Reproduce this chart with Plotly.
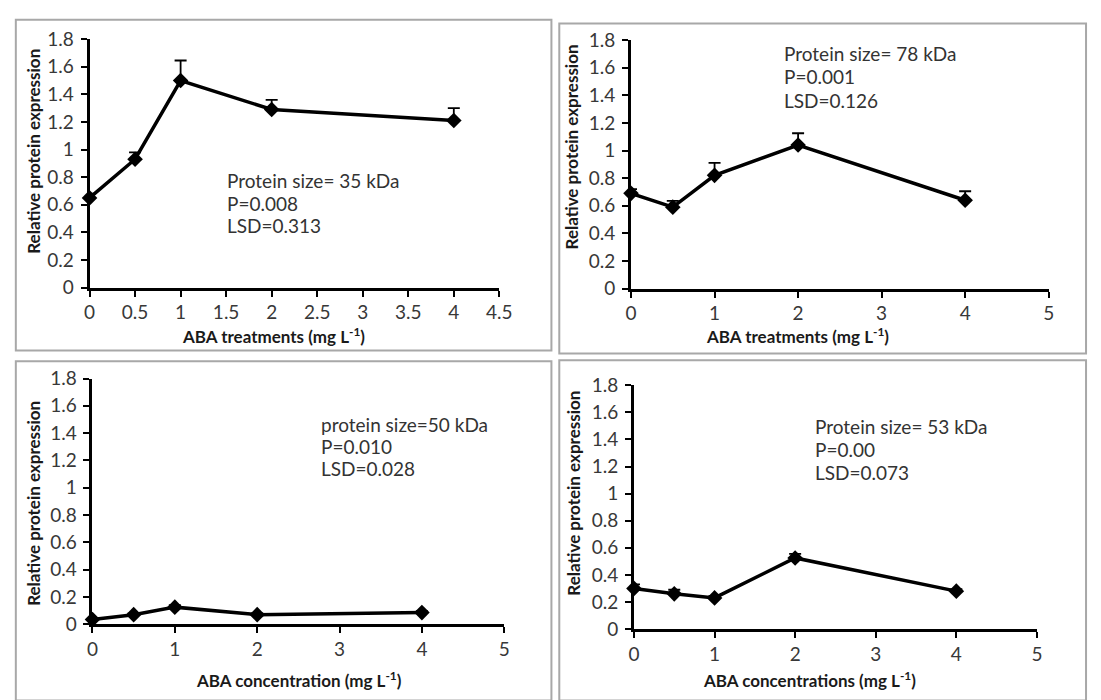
import plotly.graph_objects as go

W, H = 1101, 700

# ---------------- data ----------------
conc = [0, 0.5, 1, 2, 4]

expr_35 = [0.65, 0.93, 1.50, 1.29, 1.21]
err_35 = [0.03, 0.05, 0.145, 0.07, 0.09]

expr_78 = [0.69, 0.59, 0.82, 1.04, 0.64]
err_78 = [0.03, 0.045, 0.09, 0.085, 0.065]

expr_50 = [0.035, 0.07, 0.125, 0.07, 0.085]
err_50 = [0.01, 0.01, 0.015, 0.01, 0.01]

expr_53 = [0.30, 0.26, 0.23, 0.525, 0.28]
err_53 = [0.03, 0.03, 0.015, 0.03, 0.015]

stats_35 = ["Protein size= 35 kDa", "P=0.008", "LSD=0.313"]
stats_78 = ["Protein size= 78 kDa", "P=0.001", "LSD=0.126"]
stats_50 = ["protein size=50 kDa", "P=0.010", "LSD=0.028"]
stats_53 = ["Protein size= 53 kDa", "P=0.00", "LSD=0.073"]

xtitles = ["ABA treatments (mg L<sup>-1</sup>)", "ABA treatments (mg L<sup>-1</sup>)",
           "ABA concentration (mg L<sup>-1</sup>)", "ABA concentrations (mg L<sup>-1</sup>)"]
ytitle = "Relative protein expression"

FONT = "Lato, 'Open Sans', sans-serif"
TICK_SIZE = 19
STAT_SIZE = 19
XT_SIZE = 17
YT_SIZE = 17

def px(x):
    return x / W

def py(y):
    return 1 - y / H

# panel geometry in pixels
panels = [
    dict(x0=85, x1=502, yt=28, yb=285, xmax=4.5, dtick=0.5, expr=expr_35, err=err_35, stats=stats_35,
         sx=223, sy=[174, 198, 221], xt=(272, 334), yt_=(28, 144)),
    dict(x0=636, x1=1061, yt=29, yb=286, xmax=5, dtick=1, expr=expr_78, err=err_78, stats=stats_78,
         sx=790, sy=[43, 67, 91], xt=(805, 335), yt_=(575, 140)),
    dict(x0=88, x1=507, yt=379, yb=633, xmax=5, dtick=1, expr=expr_50, err=err_50, stats=stats_50,
         sx=319, sy=[426, 449, 472], xt=(298, 690), yt_=(28, 508)),
    dict(x0=639, x1=1049, yt=386, yb=638, xmax=5, dtick=1, expr=expr_53, err=err_53, stats=stats_53,
         sx=821, sy=[429, 452, 476], xt=(818, 690), yt_=(578, 498)),
]

fig = go.Figure()
layout = dict(
    width=W, height=H, margin=dict(l=0, r=0, t=0, b=0),
    paper_bgcolor="white", plot_bgcolor="white", showlegend=False,
    font=dict(family=FONT, size=TICK_SIZE, color="#404040"),
)
annotations = []
shapes = []

for i, p in enumerate(panels):
    n = "" if i == 0 else str(i + 1)
    xa, ya = "x" + n, "y" + n
    fig.add_trace(go.Scatter(
        x=conc, y=p["expr"], xaxis=xa, yaxis=ya, mode="lines+markers",
        line=dict(color="black", width=3.5),
        marker=dict(symbol="diamond", size=12, color="black"),
        error_y=dict(type="data", symmetric=False, array=p["err"],
                     arrayminus=[0] * len(p["err"]), color="black", thickness=1.8, width=6),
        cliponaxis=False,
    ))
    axcommon = dict(showline=True, linecolor="black", linewidth=3, ticks="outside",
                    ticklen=6, tickwidth=2, tickcolor="black", showgrid=False, zeroline=False,
                    tickfont=dict(family=FONT, size=TICK_SIZE, color="#383838"))
    layout["xaxis" + n] = dict(domain=[px(p["x0"]), px(p["x1"])], range=[0, p["xmax"]],
                               dtick=p["dtick"], tick0=0, anchor=ya, **axcommon)
    layout["yaxis" + n] = dict(domain=[py(p["yb"]), py(p["yt"])], range=[0, 1.8],
                               dtick=0.2, tick0=0, anchor=xa, ticklabelstandoff=3, **axcommon)
    for txt, yy in zip(p["stats"], p["sy"]):
        annotations.append(dict(text=txt, xref="paper", yref="paper", x=px(p["sx"]), y=py(yy),
                                xanchor="left", yanchor="middle", showarrow=False,
                                font=dict(family=FONT, size=STAT_SIZE, color="#333333")))
    annotations.append(dict(text=xtitles[i], xref="paper", yref="paper",
                            x=px(p["xt"][0]), y=py(p["xt"][1]), xanchor="center", yanchor="middle",
                            showarrow=False,
                            font=dict(family=FONT, size=XT_SIZE, color="#1a1a1a", weight="bold")))
    annotations.append(dict(text=ytitle, xref="paper", yref="paper",
                            x=px(p["yt_"][0]), y=py(p["yt_"][1]), xanchor="center", yanchor="middle",
                            textangle=-90, showarrow=False,
                            font=dict(family=FONT, size=YT_SIZE, color="#1a1a1a", weight="bold")))

# panel frames
frames = [(10, 8, 555, 350), (563, 12, 1099, 353), (10, 361, 555, 712), (563, 360, 1099, 712)]
for (x0, y0, x1, y1) in frames:
    shapes.append(dict(type="rect", xref="paper", yref="paper", x0=px(x0), x1=px(x1),
                       y0=py(y1), y1=py(y0), line=dict(color="#a8a8a8", width=2), layer="below"))

layout["annotations"] = annotations
layout["shapes"] = shapes
fig.update_layout(**layout)
fig.write_html("out.html")
